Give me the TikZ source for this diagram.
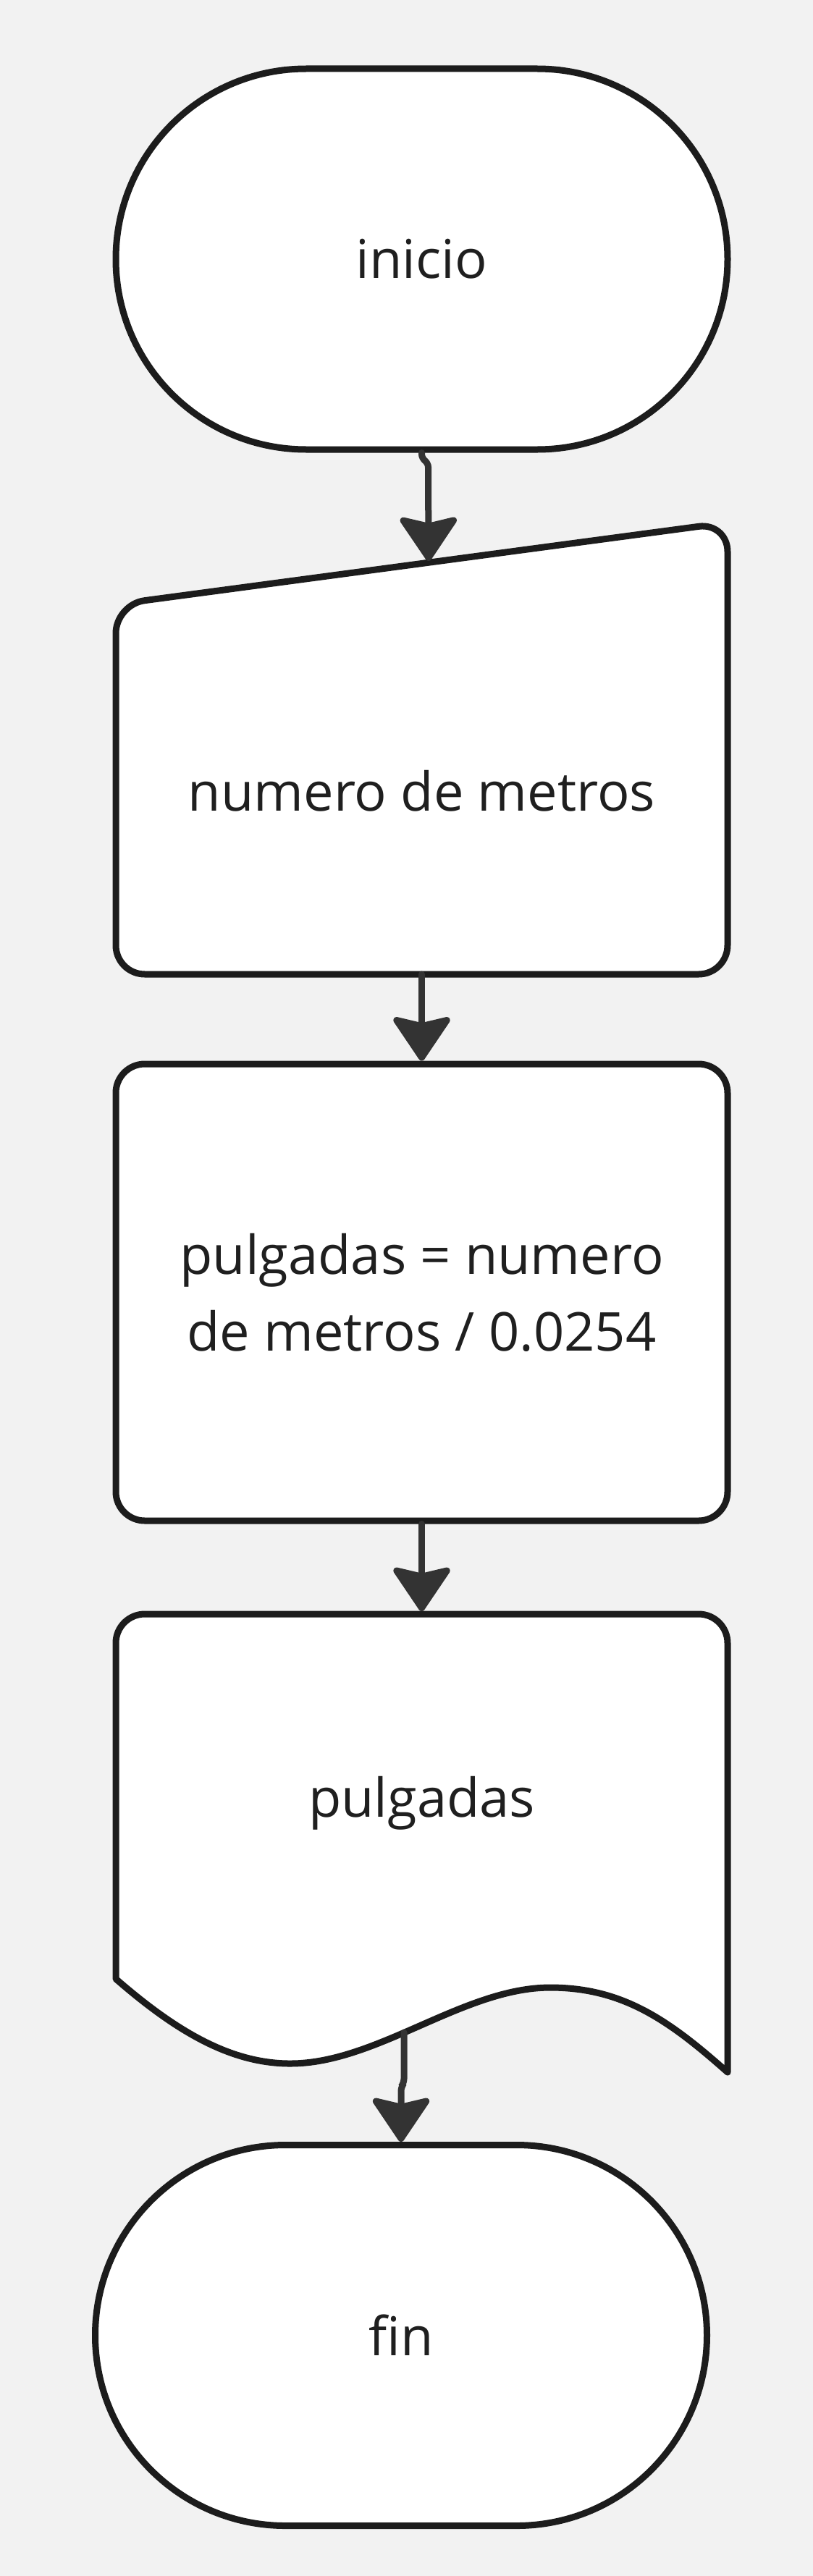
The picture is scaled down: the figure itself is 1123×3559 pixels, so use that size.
\documentclass[tikz,border=0pt]{standalone}
\usepackage{fontspec}
\setmainfont{Open Sans}
\usetikzlibrary{shapes.misc,arrows.meta}

\definecolor{bgcol}{HTML}{F2F2F2}
\definecolor{linecol}{HTML}{1C1C1C}
\definecolor{arrowcol}{HTML}{333333}
\definecolor{txtcol}{HTML}{1F1F1F}

\tikzset{
  box/.style={draw=linecol, line width=4.5pt, fill=white, line join=round},
  terminal/.style={box, rounded rectangle, minimum width=422.5pt, minimum height=263pt, inner sep=0pt},
  process/.style={box, rectangle, rounded corners=20pt, minimum width=422.5pt, minimum height=315.5pt, inner sep=0pt},
  label/.style={text=txtcol, font=\fontsize{37}{53}\selectfont, align=center},
  flow/.style={draw=arrowcol, line width=4.5pt, line cap=round, -{Stealth[length=33pt,width=44pt,inset=5pt,round]}}
}

\begin{document}
\begin{tikzpicture}[x=0.5pt, y=-0.5pt]
    \useasboundingbox[fill=bgcol] (0,0) rectangle (1123,3559); % page

    \node[terminal, label] (inicio) at (582.5,358) {inicio}; % start
    \draw[box, rounded corners=20pt] (160,835) -- (1005,722) -- (1005,1346) -- (160,1346) -- cycle; % manual input
    \node[label, anchor=base] (metros) at (582.5,1120) {numero de metros};
    \node[process, label] (calc) at (582.5,1785.5) {pulgadas = numero\\de metros / 0.0254}; % process
    \draw[box] (160,2734) [rounded corners=20pt] -- (160,2230) -- (1005,2230) [sharp corners] -- (1005,2863)
        .. controls (924,2791) and (860,2746) .. (760,2746)
        .. controls (640,2746) and (521,2851) .. (401,2851)
        .. controls (320,2851) and (245,2808) .. (160,2734) -- cycle; % document
    \node[label, anchor=base] (pulgadas) at (582.5,2510) {pulgadas};
    \node[terminal, label] (fin) at (554,3226.5) {fin}; % end

    \coordinate (inpTop) at (592,775);
    \coordinate (inpBot) at (582.5,1346);
    \coordinate (docTop) at (582.5,2226);
    \coordinate (docBot) at (558,2808);

    \draw[flow, rounded corners=3pt] (inicio.south) -- ++(0,8) -- ++(9,6) -- (inpTop); % inicio -> input
    \draw[flow] (inpBot) -- (calc.north); % input -> calc
    \draw[flow] (calc.south) -- (docTop); % calc -> output
    \draw[flow, rounded corners=3pt] (docBot) -- ++(0,70) -- ++(-4,5) -- (fin.north); % output -> fin
\end{tikzpicture}
\end{document}
